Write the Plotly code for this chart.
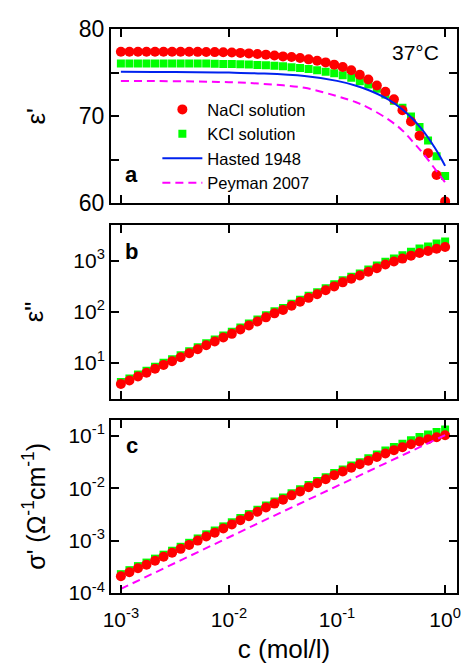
import plotly.graph_objects as go

# concentrations (mol/l)
conc = [0.001, 0.0011994, 0.0014384, 0.0017252, 0.0020691, 0.0024816, 0.0029764, 0.0035698,
        0.0042813, 0.0051347, 0.0061585, 0.0073861, 0.0088587, 0.010625, 0.012743, 0.015283,
        0.018330, 0.021984, 0.026367, 0.031623, 0.037927, 0.045488, 0.054556, 0.065432,
        0.078476, 0.094120, 0.11288, 0.13539, 0.16238, 0.19475, 0.23357, 0.28013, 0.33598,
        0.40296, 0.48329, 0.57964, 0.69519, 0.83378, 1.0]

# panel a: eps'
eps1_nacl = [77.4, 77.4, 77.4, 77.4, 77.4, 77.4, 77.4, 77.4, 77.4, 77.38, 77.37, 77.35, 77.33,
             77.3, 77.26, 77.2, 77.14, 77.06, 76.96, 76.86, 76.78, 76.67, 76.52, 76.36, 76.17,
             75.91, 75.64, 75.27, 74.74, 74.2, 73.52, 72.8, 71.93, 70.68, 69.4, 67.77, 65.76,
             63.26, 60.23]
eps1_kcl = [76.05, 76.05, 76.05, 76.05, 76.05, 76.05, 76.05, 76.05, 76.05, 76.04, 76.03, 76.02,
            76.0, 75.98, 75.95, 75.92, 75.88, 75.83, 75.78, 75.72, 75.6, 75.53, 75.42, 75.27,
            75.11, 74.92, 74.7, 74.4, 74.02, 73.64, 73.14, 72.5, 71.78, 70.98, 69.96, 68.75,
            67.2, 65.42, 63.15]

line_c = [0.001, 0.002, 0.005, 0.01, 0.02, 0.05, 0.1, 0.15, 0.2, 0.3, 0.4, 0.5, 0.6, 0.7,
          0.8, 0.9, 1.0]
hasted = [75.09, 75.08, 75.05, 75.0, 74.9, 74.6, 74.05, 73.5, 72.95, 71.9, 70.8, 69.7, 68.6,
          67.5, 66.4, 65.35, 64.3]
peyman_eps = [74.05, 74.03, 73.98, 73.9, 73.72, 73.25, 72.3, 71.6, 70.9, 69.6, 68.4, 67.1,
              66.0, 64.95, 64.0, 63.15, 62.4]

# panel b: eps''
eps2_nacl = [3.80, 4.47, 5.35, 6.31, 7.55, 9.02, 10.6, 12.7, 15.2, 18.2, 21.8, 26.0, 31.1,
             36.6, 44.5, 53.2, 63.7, 77.1, 92.3, 108, 130, 156, 186, 219, 261, 312, 374, 441,
             512, 603, 711, 836, 957, 1094, 1250, 1412, 1542, 1710, 1845]
eps2_kcl = [4.17, 4.90, 5.86, 6.92, 8.27, 9.89, 11.6, 13.9, 16.7, 19.9, 23.9, 28.5, 34.1,
            40.1, 48.8, 58.3, 69.8, 84.5, 101, 118, 142, 171, 204, 240, 286, 342, 410, 483,
            561, 669, 798, 949, 1099, 1270, 1486, 1717, 1897, 2153, 2376]

# panel c: sigma'
sig_nacl = [2.09e-4, 2.49e-4, 2.97e-4, 3.48e-4, 4.13e-4, 4.92e-4, 5.85e-4, 6.96e-4, 8.29e-4,
            1.00e-3, 1.20e-3, 1.42e-3, 1.71e-3, 2.04e-3, 2.46e-3, 2.93e-3, 3.55e-3, 4.28e-3,
            5.09e-3, 6.06e-3, 7.31e-3, 8.71e-3, 1.05e-2, 1.25e-2, 1.49e-2, 1.78e-2, 2.08e-2,
            2.47e-2, 2.86e-2, 3.36e-2, 3.94e-2, 4.62e-2, 5.34e-2, 6.09e-2, 6.93e-2, 7.80e-2,
            8.61e-2, 9.39e-2, 0.103]
sig_kcl = [2.29e-4, 2.73e-4, 3.26e-4, 3.81e-4, 4.53e-4, 5.39e-4, 6.41e-4, 7.63e-4, 9.09e-4,
           1.10e-3, 1.32e-3, 1.56e-3, 1.87e-3, 2.24e-3, 2.70e-3, 3.21e-3, 3.89e-3, 4.69e-3,
           5.58e-3, 6.64e-3, 8.01e-3, 9.55e-3, 1.15e-2, 1.37e-2, 1.63e-2, 1.95e-2, 2.28e-2,
           2.71e-2, 3.13e-2, 3.73e-2, 4.42e-2, 5.24e-2, 6.13e-2, 7.07e-2, 8.24e-2, 9.48e-2,
           0.1059, 0.1182, 0.1327]
peyman_c = [0.001, 0.002, 0.005, 0.01, 0.02, 0.05, 0.1, 0.2, 0.5, 1.0]
peyman_sig = [1.2e-4, 2.4e-4, 5.9e-4, 1.16e-3, 2.3e-3, 5.6e-3, 1.09e-2, 2.15e-2, 5.25e-2, 0.103]

x_ticks = [0.001, 0.01, 0.1, 1]
x_ticktext = ["10<sup>-3</sup>", "10<sup>-2</sup>", "10<sup>-1</sup>", "10<sup>0</sup>"]

RED = "#ff0000"
GREEN = "#00ff00"
BLUE = "#0022ee"
MAG = "#ff00ff"
FONT = "Arial, Liberation Sans, sans-serif"

fig = go.Figure()

def add_markers(y, color, symbol, size, name, xa, ya, show, rank):
    fig.add_trace(go.Scatter(x=conc, y=y, mode="markers", name=name,
                             marker=dict(color=color, symbol=symbol, size=size, line=dict(width=0)),
                             xaxis=xa, yaxis=ya, showlegend=show, legendrank=rank))

# panel a (xaxis3 / yaxis3)
add_markers(eps1_kcl, GREEN, "square", 8, "KCl solution", "x3", "y3", True, 2)
add_markers(eps1_nacl, RED, "circle", 10, "NaCl solution", "x3", "y3", True, 1)
fig.add_trace(go.Scatter(x=line_c, y=hasted, mode="lines", name="Hasted 1948",
                         line=dict(color=BLUE, width=2, shape="spline"),
                         xaxis="x3", yaxis="y3", legendrank=3))
fig.add_trace(go.Scatter(x=line_c, y=peyman_eps, mode="lines", name="Peyman 2007",
                         line=dict(color=MAG, width=2, dash="8px,5px", shape="spline"),
                         xaxis="x3", yaxis="y3", legendrank=4))
# panel b
add_markers(eps2_kcl, GREEN, "square", 8, "KCl solution", "x2", "y2", False, 5)
add_markers(eps2_nacl, RED, "circle", 10, "NaCl solution", "x2", "y2", False, 5)
# panel c
add_markers(sig_kcl, GREEN, "square", 8, "KCl solution", "x", "y", False, 5)
add_markers(sig_nacl, RED, "circle", 10, "NaCl solution", "x", "y", False, 5)
fig.add_trace(go.Scatter(x=peyman_c, y=peyman_sig, mode="lines", name="Peyman 2007",
                         line=dict(color=MAG, width=2, dash="8px,5px"),
                         xaxis="x", yaxis="y", showlegend=False))

def axis_common(fs):
    return dict(showline=True, mirror="ticks", linecolor="black", linewidth=2,
                ticks="inside", ticklen=8, tickwidth=2, tickcolor="black",
                showgrid=False, zeroline=False,
                tickfont=dict(family=FONT, size=fs, color="black"))

xrange = [-3.0915, 0.11]
# page body has an 8px default margin, so the figure is 8px smaller and offset
fig.update_layout(
    width=461, height=659,
    margin=dict(l=103, r=8, t=17, b=73),
    paper_bgcolor="white", plot_bgcolor="white",
    font=dict(family=FONT, color="black"),
    xaxis=dict(type="log", range=xrange, domain=[0, 1], anchor="y",
               tickvals=x_ticks, ticktext=x_ticktext, ticklabelstandoff=7,
               title=dict(text="c (mol/l)", font=dict(size=26), standoff=10),
               **axis_common(21)),
    xaxis2=dict(type="log", range=xrange, domain=[0, 1], anchor="y2", matches="x",
                tickvals=x_ticks, showticklabels=False, **axis_common(21)),
    xaxis3=dict(type="log", range=xrange, domain=[0, 1], anchor="y3", matches="x",
                tickvals=x_ticks, showticklabels=False, **axis_common(21)),
    yaxis=dict(type="log", range=[-4, -0.69], domain=[0, 0.3074], anchor="x",
               tickvals=[1e-4, 1e-3, 1e-2, 1e-1],
               ticktext=["10<sup>-4</sup>", "10<sup>-3</sup>", "10<sup>-2</sup>", "10<sup>-1</sup>"],
               title=dict(text="σ' (Ω<sup>-1</sup>cm<sup>-1</sup>)", font=dict(size=25), standoff=16),
               **axis_common(21)),
    yaxis2=dict(type="log", range=[0.29, 3.70], domain=[0.3443, 0.6527], anchor="x2",
                tickvals=[10, 100, 1000],
                ticktext=["10<sup>1</sup>", "10<sup>2</sup>", "10<sup>3</sup>"],
                title=dict(text="ε\"", font=dict(size=26), standoff=22),
                **axis_common(21)),
    yaxis3=dict(range=[60, 80], domain=[0.6908, 1.0], anchor="x3",
                tickvals=[60, 65, 70, 75, 80], ticktext=["60", "", "70", "", "80"],
                title=dict(text="ε'", font=dict(size=26), standoff=26),
                **axis_common(23)),
    legend=dict(x=0.134, y=0.888, xanchor="left", yanchor="top",
                bgcolor="rgba(0,0,0,0)", font=dict(family=FONT, size=16.5, color="black"),
                tracegroupgap=0, itemwidth=40),
    annotations=[
        dict(text="37°C", x=0.88, y=0.958, xref="paper", yref="paper", showarrow=False,
             font=dict(size=21), xanchor="center", yanchor="middle"),
        dict(text="<b>a</b>", x=0.06, y=0.742, xref="paper", yref="paper", showarrow=False,
             font=dict(size=22), xanchor="center", yanchor="middle"),
        dict(text="<b>b</b>", x=0.06, y=0.605, xref="paper", yref="paper", showarrow=False,
             font=dict(size=22), xanchor="center", yanchor="middle"),
        dict(text="<b>c</b>", x=0.06, y=0.262, xref="paper", yref="paper", showarrow=False,
             font=dict(size=22), xanchor="center", yanchor="middle"),
    ],
)

fig.write_html("out.html")
